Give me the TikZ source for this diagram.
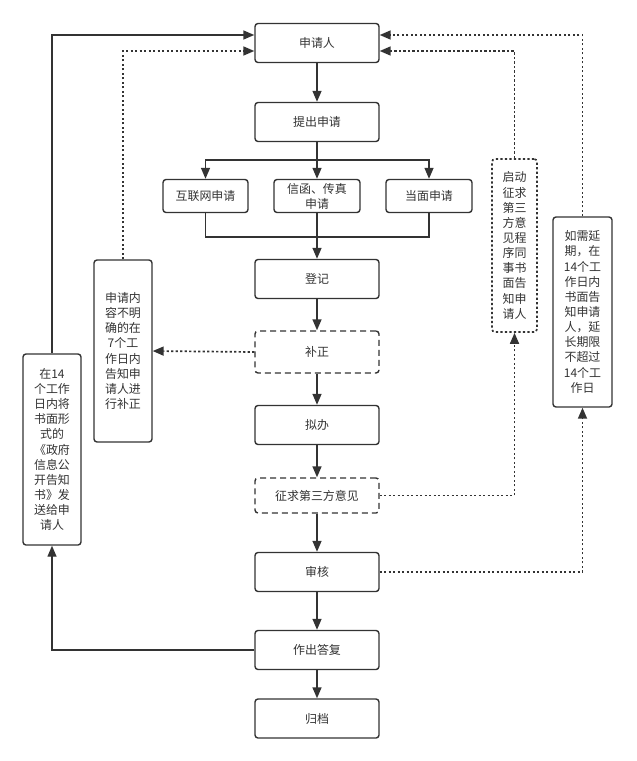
\documentclass[tikz,border=0pt]{standalone}
\usepackage{fontspec}
\setmainfont{Noto Sans CJK SC}
\usepackage{tikz}
\usetikzlibrary{positioning}
\usetikzlibrary{arrows.meta}

\definecolor{ink}{HTML}{333333}
\tikzset{
    box/.style={draw=ink,line width=1.4bp,rounded corners=3bp,fill=white,text=ink,
        minimum width=124bp,minimum height=39bp,inner sep=1bp,align=center,
        font=\fontsize{12}{15}\selectfont},
    dashbox/.style={box,dash pattern=on 6bp off 4bp},
    tallbox/.style={box,minimum height=0bp,font=\fontsize{12}{15.2}\selectfont},
    dotbox/.style={tallbox,line width=1.7bp,dash pattern=on 2.2bp off 2.3bp},
    flow/.style={draw=ink,line width=1.4bp,-{Triangle[length=11bp,width=9bp]}},
    dotflow/.style={flow,line width=1.7bp,dash pattern=on 2.2bp off 2.3bp},
    link/.style={draw=ink,line width=1.4bp}
}

\begin{document}
\begin{tikzpicture}[x=1bp,y=-1bp]
            \useasboundingbox (0,0) rectangle (637,761);

            \node[box] (applicant) at (317,43) {申请人};
            \node[box] (submit) at (317,122) {提出申请};
            \node[box,minimum width=85bp,minimum height=33bp] (online) at (205.5,196) {互联网申请};
            \node[box,minimum width=86bp,minimum height=33bp] (mail) at (317,196) {信函、传真\\申请};
            \node[box,minimum width=86bp,minimum height=33bp] (inperson) at (429,196) {当面申请};
            \node[box] (register) at (317,279) {登记};
            \node[dashbox,minimum height=42bp] (correct) at (317,352) {补正};
            \node[box] (draft) at (317,425) {拟办};
            \node[dashbox,minimum height=35bp] (consult) at (317,495.5) {征求第三方意见};
            \node[box] (review) at (317,572) {审核};
            \node[box] (reply) at (317,650) {作出答复};
            \node[box] (archive) at (317,718.5) {归档};

            \node[tallbox,minimum width=58bp,minimum height=182bp] (unclear) at (123,351)
                {申请内\\容不明\\确的在\\7个工\\作日内\\告知申\\请人进\\行补正};
            \node[tallbox,minimum width=58bp,minimum height=191bp] (notice) at (52,449.5)
                {在14\\个工作\\日内将\\书面形\\式的\\《政府\\信息公\\开告知\\书》发\\送给申\\请人};
            \node[dotbox,minimum width=45bp,minimum height=173bp] (thirdnote) at (514.5,245.5)
                {启动\\征求\\第三\\方意\\见程\\序同\\事书\\面告\\知申\\请人};
            \node[tallbox,minimum width=59bp,minimum height=190bp] (extend) at (582.5,312)
                {如需延\\期，在\\14个工\\作日内\\书面告\\知申请\\人，延\\长期限\\不超过\\14个工\\作日};

            \coordinate (split) at (317,160);
            \coordinate (merge) at (317,237);

            \draw[flow] (applicant) -- (submit);
            \draw[flow] (submit) -- (mail);
            \draw[flow] (split) -| (online.north);
            \draw[flow] (split) -| (inperson.north);
            \draw[link] (online.south) |- (merge);
            \draw[link] (inperson.south) |- (merge);
            \draw[flow] (mail) -- (register);
            \draw[flow] (register) -- (correct);
            \draw[flow] (correct) -- (draft);
            \draw[flow] (draft) -- (consult);
            \draw[flow] (consult) -- (review);
            \draw[flow] (review) -- (reply);
            \draw[flow] (reply) -- (archive);

            \draw[dotflow] (correct.west) -- (unclear.east);
            \draw[dotflow] (unclear.north) |- ([yshift=-8bp]applicant.west);
            \draw[flow] (reply.west) -| (notice.south);
            \draw[flow] (notice.north) |- ([yshift=8bp]applicant.west);
            \draw[dotflow] (consult.east) -| (thirdnote.south);
            \draw[dotflow] (thirdnote.north) |- ([yshift=-8bp]applicant.east);
            \draw[dotflow] (review.east) -| (extend.south);
            \draw[dotflow] (extend.north) |- ([yshift=8bp]applicant.east);
        \end{tikzpicture}
\end{document}
